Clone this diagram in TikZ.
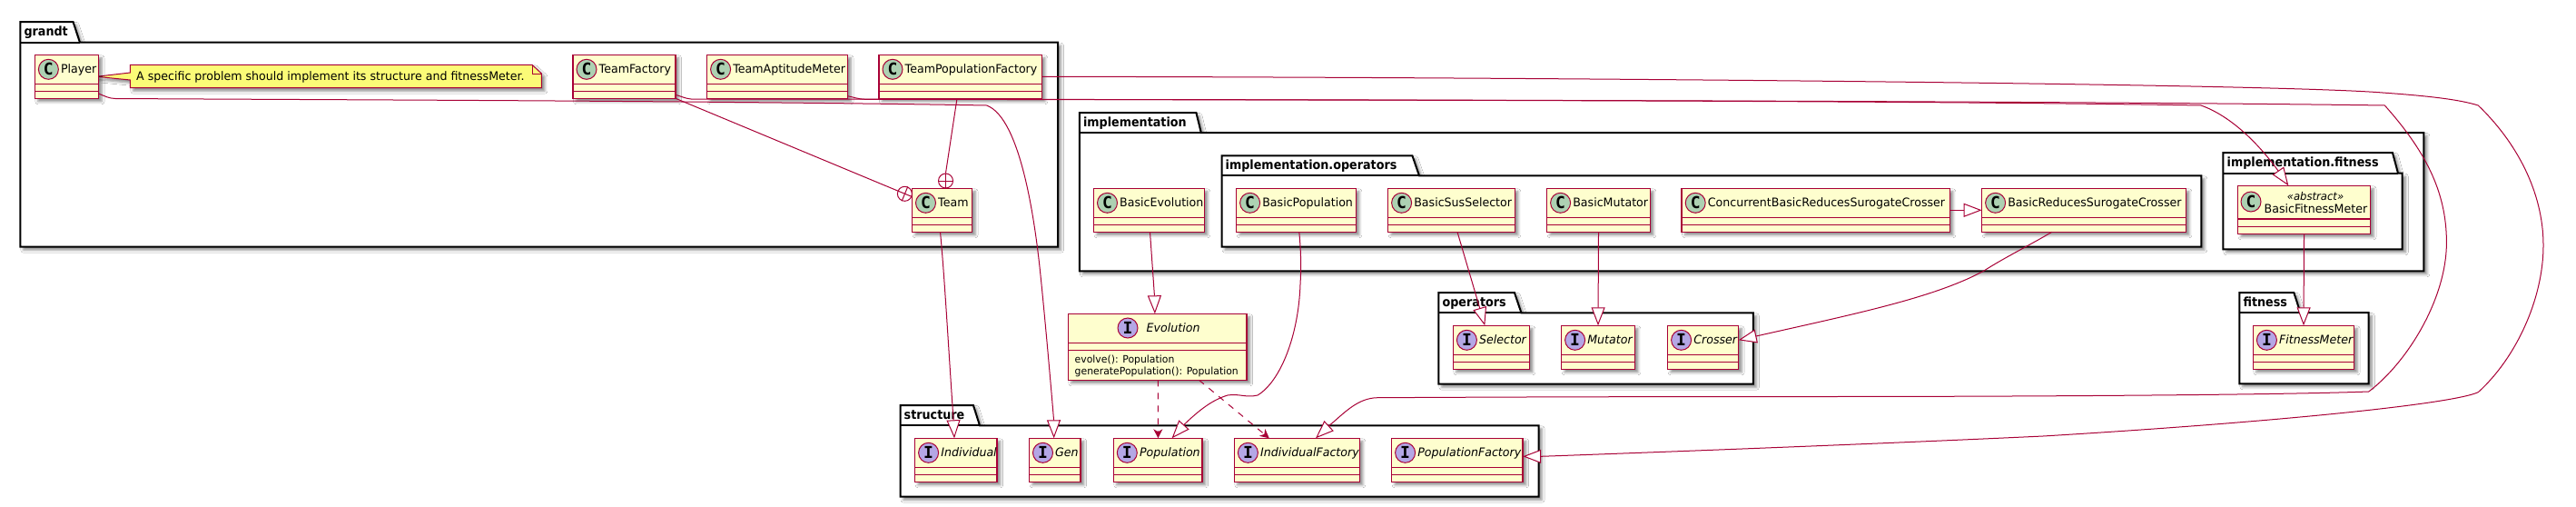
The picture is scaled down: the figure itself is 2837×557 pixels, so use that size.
\documentclass[tikz,border=0pt]{standalone}
\usepackage{fontspec}
\setmainfont{DejaVu Sans}[FakeStretch=0.97]
\newfontfamily\pkgfont{DejaVu Sans}[FakeStretch=0.91]
\newfontfamily\spotfont{DejaVu Sans Mono}
\usetikzlibrary{arrows.meta,calc,shadows.blur}
\definecolor{umlred}{HTML}{A80036}
\definecolor{clsfill}{HTML}{FEFECE}
\definecolor{notefill}{HTML}{FBFB77}
\definecolor{cspot}{HTML}{ADD1B2}
\definecolor{ispot}{HTML}{B4A7E5}
\tikzset{
  softshadow/.style={blur shadow={shadow xshift=3.5pt,shadow yshift=-3.5pt,shadow blur radius=3pt,shadow opacity=45}},
  clsbox/.style={draw=umlred,fill=clsfill,line width=1.5pt,inner sep=0pt,outer sep=0pt,anchor=north west,softshadow},
  spotC/.style={circle,draw=umlred,line width=1pt,fill=cspot,minimum size=22pt,inner sep=0pt,font=\spotfont\bfseries\fontsize{18}{18}\selectfont},
  spotI/.style={circle,draw=umlred,line width=1pt,fill=ispot,minimum size=22pt,inner sep=0pt,font=\spotfont\bfseries\fontsize{18}{18}\selectfont},
  nameC/.style={anchor=base west,inner sep=0pt,font=\fontsize{13}{13}\selectfont},
  nameI/.style={anchor=base west,inner sep=0pt,font=\itshape\fontsize{13}{13}\selectfont},
  pkgshape/.style={draw=black,fill=white,line width=2pt,line join=miter,softshadow},
  pkgrule/.style={draw=black,line width=2pt},
  pkgname/.style={anchor=base west,inner sep=0pt,font=\pkgfont\bfseries\fontsize{14}{14}\selectfont},
  rel/.style={draw=umlred,line width=1pt},
  inherit/.style={rel,-{Triangle[open,length=20pt,width=15pt,fill=white]}},
  depend/.style={rel,dash pattern=on 7pt off 7pt,-{Stealth[length=10pt,width=10pt,inset=3pt]}},
  nestmark/.style={circle,draw=umlred,line width=1pt,fill=white,minimum size=16pt,inner sep=0pt},
}
% package: id, x1, tabtop, tabright-top, tabright-bottom, bodytop, x2, bottom, label
\newcommand{\pkg}[9]{%
  \path[pkgshape] (#2,#3) -- (#4,#3) -- (#5,#6) -- (#7,#6) -- (#7,#8) -- (#2,#8) -- cycle;
  \draw[pkgrule] (#2,#6) -- (#5,#6);
  \node[pkgname] (#1) at ({#2+4},{#3+15}) {#9};
}
% box: id, x1, y1, x2, y2, div1, div2
\newcommand{\clsframe}[7]{%
  \pgfmathsetlengthmacro{\cw}{(#4-#2)*1pt}%
  \pgfmathsetlengthmacro{\ch}{(#5-#3)*1pt}%
  \node[clsbox,minimum width=\cw,minimum height=\ch] (#1) at (#2,#3) {};
  \draw[umlred,line width=1.5pt] ([yshift=-#6pt]#1.north west) -- ([yshift=-#6pt]#1.north east);
  \draw[umlred,line width=1.5pt] ([yshift=-#7pt]#1.north west) -- ([yshift=-#7pt]#1.north east);
}
% standard class: id,x1,y1,x2,kind(C/I),label
\newcommand{\stdcls}[6]{%
  \clsframe{#1}{#2}{#3}{#4}{#3+48}{32}{40}%
  \node[spot#5] (#1-spot) at ([xshift=15pt,yshift=-16pt]#1.north west) {#5};
  \node[name#5] (#1-name) at ([xshift=28.5pt,yshift=-20.5pt]#1.north west) {#6};
}
\begin{document}
\begin{tikzpicture}[x=1pt,y=-1pt]
\useasboundingbox (0,0) rectangle (2837,557);
\fill[white] (0,0) rectangle (2837,557);

% packages
\pkg{grandt}{22.3}{24}{80.5}{88}{46.7}{1165}{271.7}{grandt}
\pkg{impl}{1188.8}{124}{1317.4}{1322.8}{146}{2669.3}{298.3}{implementation}
\pkg{implops}{1345.5}{171.3}{1555.4}{1563}{193.3}{2424.3}{271.7}{implementation.operators}
\pkg{implfit}{2448.4}{168}{2634.9}{2641}{190.7}{2645.7}{274.3}{implementation.fitness}
\pkg{operators}{1584.4}{322}{1667.9}{1675.4}{344.3}{1930.8}{422.7}{operators}
\pkg{fitness}{2466.4}{322}{2526.3}{2533.4}{344}{2608.7}{422.3}{fitness}
\pkg{structure}{991.5}{446}{1071.9}{1079}{468.3}{1694.6}{546.7}{structure}

% note
\path[draw=umlred,fill=notefill,line width=1pt,softshadow] (143.3,71.3) -- (586,71.3) -- (596.4,81) -- (596.4,96.7) -- (143.3,96.7) -- (143.3,88) -- (106,84.3) -- (143.3,80) -- cycle;
\draw[umlred,line width=1pt] (586,71.3) -- (586,81) -- (596.4,81);
\node[nameC] (note) at (150,88.7) {A specific problem should implement its structure and fitnessMeter.};

% classes
\stdcls{player}{38.4}{60.3}{108.5}{C}{Player}
\stdcls{teamfactory}{631}{60.3}{744}{C}{TeamFactory}
\stdcls{teamaptitude}{778.6}{60.3}{933.5}{C}{TeamAptitudeMeter}
\stdcls{teampopfactory}{968}{60.3}{1147.3}{C}{TeamPopulationFactory}
\stdcls{team}{1004.5}{207.3}{1070.5}{C}{Team}
\stdcls{basicevolution}{1204.5}{207.3}{1326.3}{C}{BasicEvolution}
\stdcls{basicpopulation}{1361.6}{207.3}{1493.3}{C}{BasicPopulation}
\stdcls{basicsus}{1528.6}{207.3}{1668.3}{C}{BasicSusSelector}
\stdcls{basicmutator}{1703.6}{207.3}{1817.4}{C}{BasicMutator}
\stdcls{concurrent}{1852.2}{207.3}{2147.3}{C}{ConcurrentBasicReducesSurogateCrosser}
\stdcls{basicreduces}{2182.6}{207.3}{2407.4}{C}{BasicReducesSurogateCrosser}
\stdcls{selector}{1600.4}{358.3}{1684.4}{I}{Selector}
\stdcls{mutator}{1719.6}{358.3}{1800.4}{I}{Mutator}
\stdcls{crosser}{1836.6}{358.3}{1914.7}{I}{Crosser}
\stdcls{fitnessmeter}{2481.4}{358.3}{2592.6}{I}{FitnessMeter}
\stdcls{individual}{1007.6}{482.3}{1098.2}{I}{Individual}
\stdcls{gen}{1133.5}{482.3}{1190.2}{I}{Gen}
\stdcls{population}{1226.3}{482.3}{1324.1}{I}{Population}
\stdcls{individualfactory}{1359.4}{482.3}{1497.3}{I}{IndividualFactory}
\stdcls{populationfactory}{1532.6}{482.3}{1677.2}{I}{PopulationFactory}

% Evolution
\clsframe{evolution}{1176.3}{345.3}{1373.2}{418.3}{32}{40.4}
\node[spotI] (evolution-spot) at (1242,361) {I};
\node[nameI] (evolution-name) at (1262.5,365) {Evolution};
\node[nameC,font=\fontsize{11.2}{11.2}\selectfont] (evolution-m1) at (1183.5,399) {evolve(): Population};
\node[nameC,font=\fontsize{11.2}{11.2}\selectfont] (evolution-m2) at (1183.5,412) {generatePopulation(): Population};

% BasicFitnessMeter
\clsframe{basicfitness}{2464.5}{204.3}{2610.5}{257.3}{36.7}{45}
\node[spotC] (basicfitness-spot) at (2479,222) {C};
\node[anchor=base,inner sep=0pt,font=\itshape\fontsize{12}{12}\selectfont] (basicfitness-st) at (2550,220) {«abstract»};
\node[nameC] (basicfitness-name) at (2493.4,234) {BasicFitnessMeter};

% nested-class marks
\node[nestmark] (markA) at (1041.5,199) {};
\draw[rel] ([xshift=86pt]teampopfactory.south west) -- (markA.north);
\draw[rel] (markA.north) -- (markA.south);
\draw[rel] (markA.west) -- (markA.east);
\node[nestmark] (markB) at (996.4,213.3) {};
\draw[rel] (teamfactory.south east) -- (markB.157.4);
\draw[rel] (markB.157.4) -- (markB.-22.6);
\draw[rel] (markB.67.4) -- (markB.-112.6);

% generalisations
\draw[inherit] ([xshift=-2pt]team.south) .. controls (1040,300) and (1045,390) .. (1050,461.7) -- ([xshift=43.4pt]individual.north west);
\draw[inherit] (player.east |- 0,103) .. controls (116,106) and (120,108.3) .. (127,108.5)
   .. controls (400,110) and (800,111) .. (1086.6,116)
   .. controls (1125,130) and (1140,250) .. (1144.6,290)
   .. controls (1150,340) and (1157,420) .. (1160.5,461.7) -- ([xshift=27.2pt]gen.north west);
\draw[inherit] (teamfactory.east |- 0,104.3) .. controls (750,106) and (755,108.5) .. (761,109)
   .. controls (1200,109.5) and (2200,110) .. (2626.3,116)
   .. controls (2670,165) and (2694.4,210) .. (2694.4,266.7)
   .. controls (2694.4,330) and (2650,400) .. (2608.7,431)
   .. controls (2500,435) and (2200,436.5) .. (2000,436.5)
   .. controls (1800,436.5) and (1650,437) .. (1517,437.7)
   .. controls (1495,438) and (1480,455) .. (1464,468.3) -- ([xshift=89.6pt]individualfactory.north west);
\draw[inherit] (teamaptitude.east |- 0,105.7) .. controls (940,107) and (945,109) .. (952.7,109.3)
   .. controls (1500,110) and (2100,110.5) .. (2424,116)
   .. controls (2455,127) and (2485,155) .. (2509,188) -- ([xshift=55.8pt]basicfitness.north west);
\draw[inherit] (teampopfactory.east |- 0,84.3) .. controls (1700,85) and (2500,92) .. (2624,102)
   .. controls (2680,106) and (2710,110) .. (2729.2,116)
   .. controls (2770,155) and (2801,210) .. (2801,270)
   .. controls (2801,330) and (2770,395) .. (2729.2,431.7)
   .. controls (2700,445) and (2500,465) .. (2250,480)
   .. controls (2100,487) and (1900,495) .. (1697.3,502.3) -- (populationfactory.east |- 0,502.3);
\draw[inherit] ([xshift=62pt]basicevolution.south west) -- (1271.4,325) -- ([xshift=95.6pt]evolution.north west);
\draw[inherit] ([xshift=69.2pt]basicpopulation.south west) .. controls (1433,280) and (1433,295) .. (1432,313)
   .. controls (1430,370) and (1410,420) .. (1385,435)
   .. controls (1372,438) and (1365,433) .. (1352,435)
   .. controls (1335,440) and (1320,452) .. (1304.4,467) -- ([xshift=64.3pt]population.north west);
\draw[inherit] ([xshift=76.4pt]basicsus.south west) -- (1629.5,338.5) -- ([xshift=34.9pt]selector.north west);
\draw[inherit] (basicmutator.south) -- (mutator.north);
\draw[inherit] (concurrent.east) -- (basicreduces.west);
\draw[inherit] ([xshift=77.2pt]basicreduces.south west) .. controls (2235,270) and (2205,285) .. (2185,298)
   .. controls (2130,328) and (2040,346) .. (1934,370) -- (crosser.east |- 0,374.3);
\draw[inherit] (basicfitness.south) -- (fitnessmeter.north);

% dependencies
\draw[depend] (evolution.south -| 1275.4,0) -- ([xshift=49.1pt]population.north west);
\draw[depend] ([xshift=144.2pt]evolution.south west) -- ([xshift=38.4pt]individualfactory.north west);
\end{tikzpicture}
\end{document}
